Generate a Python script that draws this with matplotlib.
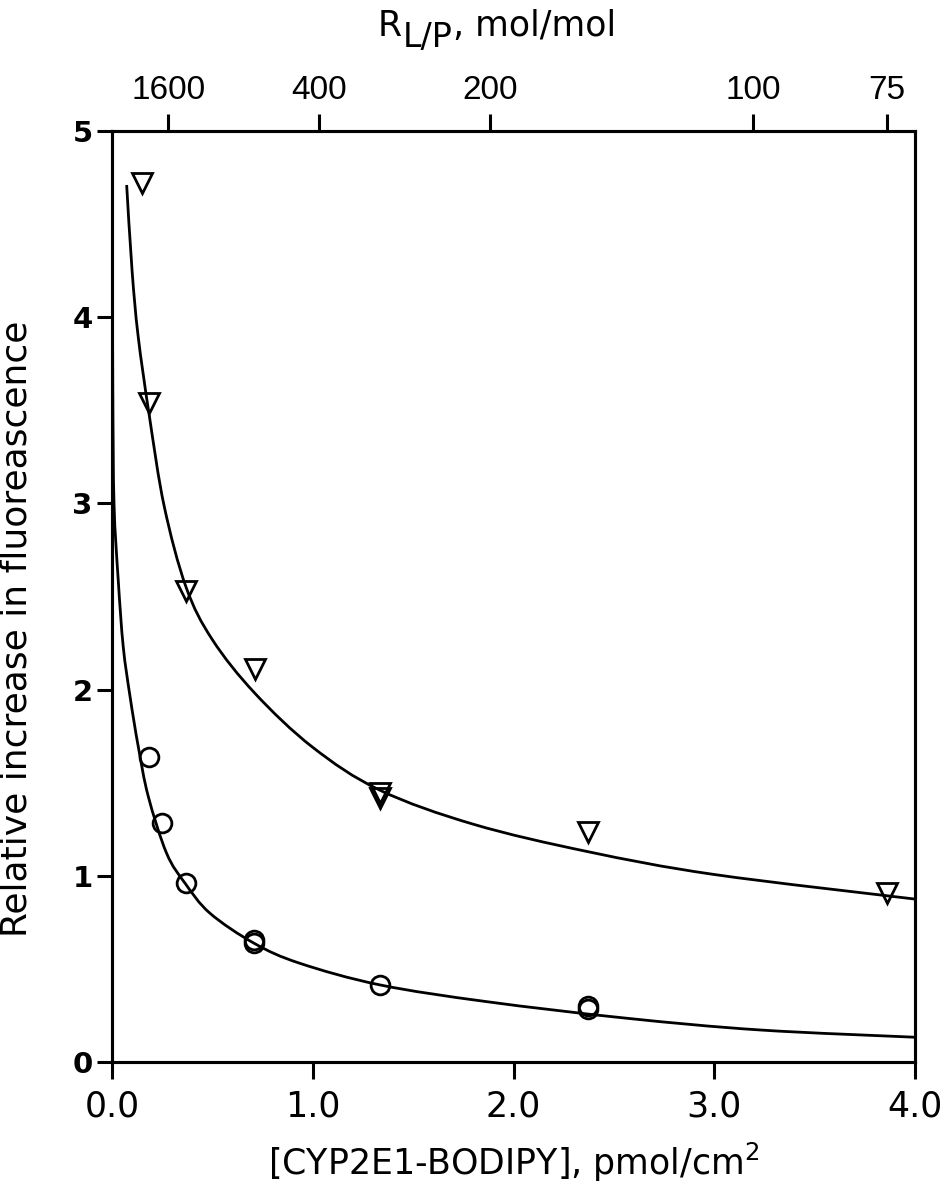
import matplotlib
matplotlib.use("Agg")
import matplotlib.pyplot as plt
from matplotlib import font_manager as fm
from matplotlib.path import Path
from matplotlib.patches import PathPatch

# ---------------- data ----------------
tri_x = [0.148, 0.186, 0.369, 0.712, 1.334, 1.334, 2.369, 3.859]
tri_y = [4.72, 3.54, 2.53, 2.11, 1.445, 1.42, 1.237, 0.906]

circ_x = [0.186, 0.247, 0.369, 0.709, 0.709, 1.334, 2.369, 2.369]
circ_y = [1.64, 1.285, 0.96, 0.655, 0.64, 0.414, 0.30, 0.285]

# fitted curves, points
upper_fit_x = [0.073, 0.100, 0.130, 0.186, 0.260, 0.369, 0.500, 0.712, 1.000,
               1.334, 1.800, 2.369, 3.000, 4.000]
upper_fit_y = [4.710, 4.250, 3.900, 3.470, 2.985, 2.550, 2.268, 1.980, 1.690,
               1.460, 1.277, 1.130, 1.007, 0.875]

lower_fit_x = [0.002, 0.004, 0.010, 0.031, 0.056, 0.090, 0.131, 0.181, 0.272,
               0.364, 0.488, 0.709, 0.936, 1.335, 1.867, 2.564, 3.228, 4.000]
lower_fit_y = [4.30, 3.60, 3.000, 2.589, 2.230, 1.962, 1.693, 1.425, 1.121,
               0.960, 0.799, 0.637, 0.530, 0.414, 0.324, 0.235, 0.172, 0.133]

x_ticks = [0.0, 1.0, 2.0, 3.0, 4.0]
x_tick_labels = ["0.0", "1.0", "2.0", "3.0", "4.0"]
y_ticks = [0, 1, 2, 3, 4, 5]
y_tick_labels = ["0", "1", "2", "3", "4", "5"]
top_tick_x = [0.280, 1.031, 1.883, 3.192, 3.859]
top_tick_labels = ["1600", "400", "200", "100", "75"]

x_label = "[CYP2E1-BODIPY], pmol/cm$^{2}$"
y_label = "Relative increase in fluoreascence"

# ---------------- fonts ----------------
names = {f.name for f in fm.fontManager.ttflist}
narrow = "Liberation Sans Narrow" if "Liberation Sans Narrow" in names else "Liberation Sans"
plt.rcParams["font.family"] = ["DejaVu Sans"]
plt.rcParams["mathtext.default"] = "regular"

# ---------------- figure ----------------
fig = plt.figure(figsize=(9.45, 12), dpi=100)
ax = fig.add_axes([112 / 945, 1 - 1062 / 1200, 803 / 945, 931 / 1200])


def smooth_path(xs, ys):
    """Cubic Bezier path passing through the read points (Catmull-Rom tangents)."""
    pts = list(zip(xs, ys))
    n = len(pts)
    verts = [pts[0]]
    codes = [Path.MOVETO]
    for i in range(n - 1):
        p0 = pts[i - 1] if i > 0 else pts[i]
        p1 = pts[i]
        p2 = pts[i + 1]
        p3 = pts[i + 2] if i + 2 < n else pts[i + 1]
        c1 = (p1[0] + (p2[0] - p0[0]) / 6, p1[1] + (p2[1] - p0[1]) / 6)
        c2 = (p2[0] - (p3[0] - p1[0]) / 6, p2[1] - (p3[1] - p1[1]) / 6)
        verts += [c1, c2, p2]
        codes += [Path.CURVE4] * 3
    return Path(verts, codes)


LW = 2.2
for xs, ys in ((upper_fit_x, upper_fit_y), (lower_fit_x, lower_fit_y)):
    ax.add_patch(PathPatch(smooth_path(xs, ys), facecolor="none",
                           edgecolor="black", lw=2.0, capstyle="butt"))

ax.plot(tri_x, tri_y, linestyle="none", marker="v", ms=15, mfc="none",
        mec="black", mew=2.0, clip_on=False)
ax.plot(circ_x, circ_y, linestyle="none", marker="o", ms=13.5, mfc="none",
        mec="black", mew=2.0, clip_on=False)

ax.set_xlim(0, 4)
ax.set_ylim(0, 5)
for s in ax.spines.values():
    s.set_linewidth(LW)

ax.set_xticks(x_ticks)
ax.set_xticklabels(x_tick_labels, fontsize=25)
ax.set_yticks(y_ticks)
ax.set_yticklabels(y_tick_labels, fontsize=21, fontweight="bold")
ax.tick_params(axis="x", direction="out", length=12, width=LW, top=False, pad=8)
ax.tick_params(axis="y", direction="out", length=11, width=LW, right=False, pad=3)

ax.set_xlabel(x_label, fontsize=25, labelpad=12)
ax.set_ylabel(y_label, fontsize=26)
ax.yaxis.set_label_coords(-0.098, 0.465)

ax2 = ax.twiny()
ax2.set_xlim(0, 4)
ax2.set_xticks(top_tick_x)
ax2.set_xticklabels(top_tick_labels, fontsize=24, fontfamily=narrow)
ax2.tick_params(axis="x", direction="out", length=12, width=LW, pad=6)
for s in ax2.spines.values():
    s.set_linewidth(LW)

# top title  R_{L/P}, mol/mol  (subscript nearly full size)
renderer = fig.canvas.get_renderer()
base_y = 1 - 36 / 1200
t1 = fig.text(378 / 945, base_y, "R", fontsize=25, va="baseline", ha="left")
bb = t1.get_window_extent(renderer)
t2 = fig.text(bb.x1 / 945 + 1 / 945, base_y - 11 / 1200, "L/P", fontsize=24,
              va="baseline", ha="left")
bb2 = t2.get_window_extent(renderer)
fig.text(bb2.x1 / 945, base_y, ", mol/mol", fontsize=25, va="baseline", ha="left")

fig.savefig("out.png", dpi=100)
